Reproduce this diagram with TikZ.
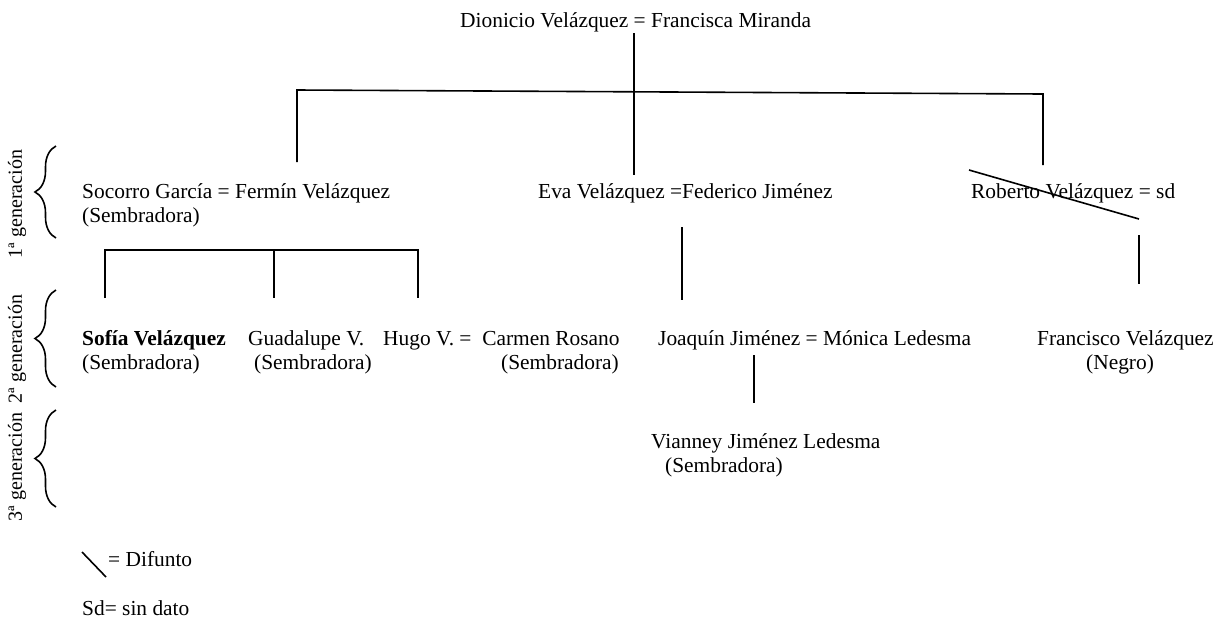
\documentclass[tikz,border=0pt]{standalone}
\usepackage{fontspec}
\setmainfont{Liberation Serif}
\usetikzlibrary{decorations.pathreplacing}
\begin{document}
\begin{tikzpicture}[x=1pt,y=1pt,
  txt/.style={inner sep=0pt, font=\fontsize{21.4}{24}\selectfont, anchor=base west},
  txtr/.style={inner sep=0pt, font=\fontsize{21.4}{24}\selectfont, anchor=base east},
  rot/.style={inner sep=0pt, font=\fontsize{20}{22}\selectfont, rotate=90, anchor=center},
  ln/.style={line width=1.6pt},
  gbrace/.style={line width=1.6pt, decorate, decoration={brace, amplitude=21pt, aspect=0.5}}]
\useasboundingbox (0,0) rectangle (1224,-622);

% texts
\node[txt] (top) at (460,-27) {Dionicio Velázquez = Francisca Miranda};
\node[txt] (soc) at (82,-198) {Socorro García = Fermín Velázquez};
\node[txt] (socS) at (82,-222) {(Sembradora)};
\node[txt] (eva) at (538,-198) {Eva Velázquez =Federico Jiménez};
\node[txt] (rob) at (971,-198) {Roberto Velázquez = sd};

\node[txt] (sofia) at (82,-345) {\textbf{Sofía Velázquez}};
\node[txt] (sofiaS) at (82,-369) {(Sembradora)};
\node[txt] (guad) at (248,-345) {Guadalupe V.};
\node[txt] (guadS) at (254,-369) {(Sembradora)};
\node[txt] (hugo) at (383,-345) {Hugo V. =\ \ Carmen Rosano};
\node[txtr] (hugoS) at (619,-369) {(Sembradora)};
\node[txt] (joa) at (658,-345) {Joaquín Jiménez = Mónica Ledesma};
\node[txt] (fran) at (1037,-345) {Francisco Velázquez};
\node[txt] (franS) at (1086,-369) {(Negro)};
\node[txt] (vian) at (651,-448) {Vianney Jiménez Ledesma};
\node[txt] (vianS) at (665,-472) {(Sembradora)};

\node[txt] (dif) at (108,-566) {= Difunto};
\node[txt] (sd) at (82,-615) {Sd= sin dato};

% generation labels and braces
\node[rot] (g1) at (17,-204) {1ª generación};
\node[rot] (g2) at (17,-349) {2ª generación};
\node[rot] (g3) at (17,-467) {3ª generación};
\coordinate (b1a) at (56,-238); \coordinate (b1b) at (56,-146);
\coordinate (b2a) at (56,-387); \coordinate (b2b) at (56,-290);
\coordinate (b3a) at (56,-507); \coordinate (b3b) at (56,-410);
\draw[gbrace] (b1a) -- (b1b);
\draw[gbrace] (b2a) -- (b2b);
\draw[gbrace] (b3a) -- (b3b);

% connectors
\coordinate (t1) at (634,-33);
\coordinate (t2) at (634,-175);
\coordinate (h1) at (297,-90);
\coordinate (h2) at (1043,-94);
\coordinate (l1) at (297,-162);
\coordinate (r1) at (1043,-165);
\draw[ln] (t1) -- (t2);
\draw[ln] (l1) -- (h1) -- (h2) -- (r1);

\coordinate (s1) at (969,-170);
\coordinate (s2) at (1139,-219);
\draw[ln] (s1) -- (s2);
\coordinate (rc1) at (1139,-235);
\coordinate (rc2) at (1139,-284);
\draw[ln] (rc1) -- (rc2);

\coordinate (e1) at (682,-227);
\coordinate (e2) at (682,-300);
\draw[ln] (e1) -- (e2);

\coordinate (c1) at (105,-298);
\coordinate (c2) at (105,-250);
\coordinate (c3) at (418,-250);
\coordinate (c4) at (418,-298);
\coordinate (c5) at (274,-250);
\coordinate (c6) at (274,-298);
\draw[ln] (c1) -- (c2) -- (c3) -- (c4);
\draw[ln] (c5) -- (c6);

\coordinate (j1) at (754,-355);
\coordinate (j2) at (754,-403);
\draw[ln] (j1) -- (j2);

\coordinate (d1) at (82,-552);
\coordinate (d2) at (106,-577);
\draw[ln] (d1) -- (d2);
\end{tikzpicture}
\end{document}
